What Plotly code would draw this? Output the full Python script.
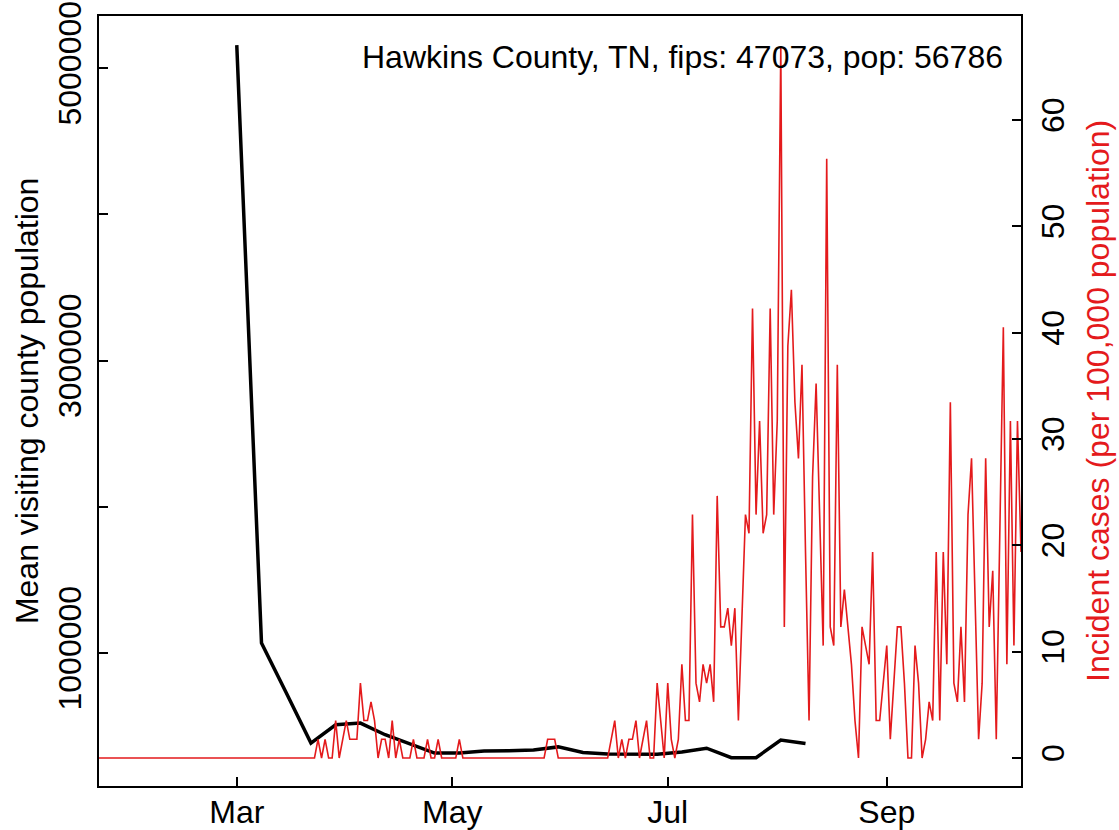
import pandas as pd
import plotly.graph_objects as go

# ---- data ----
# Mean visiting county population (weekly, starting 2020-03-01)
mobility_start = "2020-03-01"
mobility_values = [
    5157000, 1068000, 728000, 384000, 509000, 521000, 441000, 379000,
    316000, 316000, 330000, 332000, 336000, 358000, 320000, 310000,
    310000, 308000, 323000, 349000, 284000, 284000, 405000, 381000,
]

# Incident cases per 100,000 population (daily, starting 2020-01-22)
cases_start = "2020-01-22"
cases_values = (
    [0.0] * 62
    + [1.76, 0, 1.76, 0, 0, 3.52, 0, 1.76, 3.52, 1.76, 1.76, 1.76, 7.04, 3.52, 3.52, 5.28,
       3.52, 0, 1.76, 1.76, 0, 3.52, 0, 1.76, 0, 0, 0, 1.76, 0, 0, 0, 1.76, 0, 0, 1.76, 0,
       0, 0, 0, 0, 1.76]
    + [0.0] * 24
    + [1.76, 1.76, 1.76]
    + [0.0] * 15
    + [1.76, 3.52, 0, 1.76, 0, 1.76, 1.76, 3.52, 0, 1.76, 3.52, 0, 0, 7.04, 3.52, 0,
       7.04, 1.76, 0, 1.76, 8.81, 3.52, 3.52, 22.89, 7.04, 5.28, 8.81, 7.04, 8.81, 5.28,
       24.65, 12.33, 12.33, 14.09, 10.57, 14.09, 3.52, 12.33, 22.89, 21.13, 42.26, 22.89,
       31.70, 21.13, 22.89, 42.26, 22.89, 31.70, 66.92, 12.33, 38.74, 44.03, 33.46, 28.18,
       36.98, 19.37, 3.52, 26.42, 35.22, 22.89, 10.57, 56.35, 12.33, 10.57, 36.98, 12.33,
       15.85, 12.33, 8.81, 3.52, 0, 12.33, 10.57, 8.81, 19.37, 3.52, 3.52, 7.04, 10.57,
       1.76, 7.04, 12.33, 12.33, 7.04, 0, 0, 10.57, 7.04, 0, 1.76, 5.28, 3.52, 19.37,
       3.52, 19.37, 8.81, 33.46, 7.04, 5.28, 12.33, 5.28, 22.89, 28.18, 14.09, 1.76, 7.04,
       28.18, 12.33, 17.61, 1.76, 21.13, 40.50, 8.81, 31.70, 10.57, 31.70, 19.37]
)

month_ticks = ["2020-03-01", "2020-05-01", "2020-07-01", "2020-09-01"]
month_labels = ["Mar", "May", "Jul", "Sep"]

left_ticks = [1000000, 2000000, 3000000, 4000000, 5000000]
left_labels = ["1000000", "", "3000000", "", "5000000"]
right_ticks = [0, 10, 20, 30, 40, 50, 60]

title_text = "Hawkins County, TN, fips: 47073, pop: 56786"

mobility_dates = pd.date_range(mobility_start, periods=len(mobility_values), freq="7D")
cases_dates = pd.date_range(cases_start, periods=len(cases_values), freq="D")

RED = "#E41A1C"
FONT = "Liberation Sans, Arial, Helvetica, sans-serif"
FS = 32

fig = go.Figure()
fig.add_trace(go.Scatter(
    x=mobility_dates, y=mobility_values, mode="lines",
    line=dict(color="black", width=3.5), yaxis="y", hoverinfo="x+y",
))
fig.add_trace(go.Scatter(
    x=cases_dates, y=cases_values, mode="lines",
    line=dict(color=RED, width=1.6), yaxis="y2", hoverinfo="x+y",
))

axis_common = dict(
    ticks="inside", ticklen=9, tickwidth=1.5, tickcolor="black",
    showline=True, linecolor="black", linewidth=1.6,
    showgrid=False, zeroline=False, automargin=False,
    tickfont=dict(family=FONT, size=FS, color="black"),
)

fig.update_layout(
    width=1119, height=830,
    margin=dict(l=99, r=98, t=16, b=44),
    paper_bgcolor="white", plot_bgcolor="white",
    showlegend=False,
    font=dict(family=FONT, size=FS, color="black"),
    xaxis=dict(
        type="date", range=["2020-01-22", "2020-10-09"],
        tickvals=month_ticks, ticktext=month_labels, mirror=True,
        ticklabelstandoff=-3,
        **axis_common,
    ),
    yaxis=dict(
        range=[90600, 5356000], tickvals=left_ticks, ticktext=left_labels,
        tickangle=-90, ticklabelstandoff=3, **axis_common,
    ),
    yaxis2=dict(
        overlaying="y", side="right", range=[-2.633, 69.78],
        tickvals=right_ticks, ticktext=[str(t) for t in right_ticks],
        tickangle=-90, ticklabelstandoff=3, **axis_common,
    ),
    annotations=[
        dict(text=title_text, xref="paper", yref="paper", x=0.9826, y=0.9468,
             xanchor="right", yanchor="middle", showarrow=False,
             font=dict(family=FONT, size=FS, color="black")),
        dict(text="Mean visiting county population", xref="paper", yref="paper",
             x=-0.078, y=0.5, xanchor="center", yanchor="middle", textangle=-90,
             showarrow=False, font=dict(family=FONT, size=FS, color="black")),
        dict(text="Incident cases (per 100,000 population)", xref="paper", yref="paper",
             x=1.0835, y=0.5, xanchor="center", yanchor="middle", textangle=-90,
             showarrow=False, font=dict(family=FONT, size=FS, color=RED)),
    ],
)

fig.write_html(
    "out.html",
    config={"displayModeBar": False},
    post_script="document.body.style.margin='0';document.body.style.overflow='hidden';",
)
